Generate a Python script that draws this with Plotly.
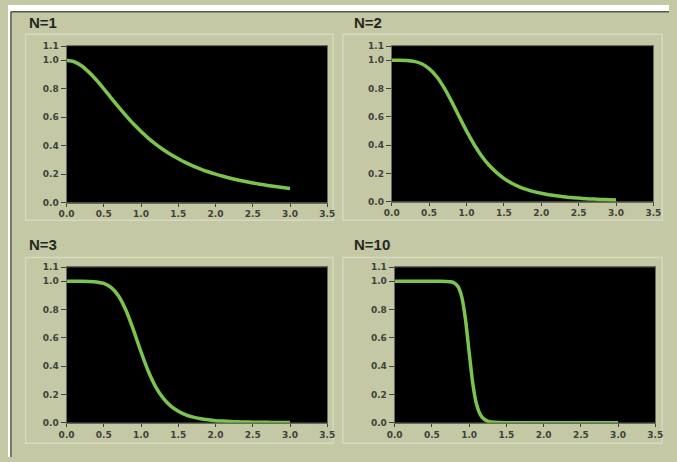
import plotly.graph_objects as go

W, H = 677, 462

# ---- data ----
x_n1 = [0.0, 0.1, 0.2, 0.3, 0.4, 0.5, 0.6, 0.7, 0.8, 0.9, 1.0, 1.1, 1.2, 1.3, 1.4, 1.5,
        1.6, 1.7, 1.8, 1.9, 2.0, 2.1, 2.2, 2.3, 2.4, 2.5, 2.6, 2.7, 2.8, 2.9, 3.0]
y_n1 = [1.0, 0.99, 0.962, 0.917, 0.862, 0.8, 0.735, 0.671, 0.61, 0.552, 0.5, 0.452, 0.41,
        0.372, 0.338, 0.308, 0.281, 0.257, 0.236, 0.217, 0.2, 0.185, 0.171, 0.159, 0.148,
        0.138, 0.129, 0.121, 0.113, 0.106, 0.1]

x_n2 = x_n1
y_n2 = [1.0, 1.0, 0.998, 0.992, 0.975, 0.941, 0.885, 0.806, 0.709, 0.604, 0.5, 0.406, 0.325,
        0.259, 0.207, 0.165, 0.132, 0.107, 0.087, 0.071, 0.059, 0.049, 0.041, 0.035, 0.029,
        0.025, 0.021, 0.018, 0.016, 0.014, 0.012]

x_n3 = x_n1
y_n3 = [1.0, 1.0, 1.0, 0.999, 0.996, 0.985, 0.955, 0.895, 0.792, 0.653, 0.5, 0.361, 0.251,
        0.172, 0.117, 0.081, 0.056, 0.04, 0.029, 0.021, 0.015, 0.012, 0.009, 0.007, 0.005,
        0.004, 0.003, 0.003, 0.002, 0.002, 0.001]

x_n10 = [0.0, 0.1, 0.2, 0.3, 0.4, 0.5, 0.6, 0.7, 0.75, 0.8, 0.85, 0.9, 0.95, 1.0, 1.05,
         1.1, 1.15, 1.2, 1.25, 1.3, 1.4, 1.5, 2.0, 2.5, 3.0]
y_n10 = [1.0, 1.0, 1.0, 1.0, 1.0, 1.0, 1.0, 0.999, 0.997, 0.989, 0.963, 0.892, 0.736, 0.5,
         0.274, 0.129, 0.058, 0.025, 0.011, 0.005, 0.001, 0.0, 0.0, 0.0, 0.0]

titles = ["N=1", "N=2", "N=3", "N=10"]
x_tickvals = [0.0, 0.5, 1.0, 1.5, 2.0, 2.5, 3.0, 3.5]
x_ticktext = ["0.0", "0.5", "1.0", "1.5", "2.0", "2.5", "3.0", "3.5"]
y_tickvals = [0.0, 0.2, 0.4, 0.6, 0.8, 1.0, 1.1]
y_ticktext = ["0.0", "0.2", "0.4", "0.6", "0.8", "1.0", "1.1"]

series = [(x_n1, y_n1), (x_n2, y_n2), (x_n3, y_n3), (x_n10, y_n10)]

# ---- layout geometry (pixels) ----
plot_boxes = [(60, 42, 327, 202), (393, 42, 661, 201), (60, 268, 327, 427), (396, 268, 663, 427)]
group_boxes = [(18, 30, 333, 220), (343, 30, 670, 220), (18, 258, 333, 448), (343, 258, 670, 448)]
title_pos = [(19, 18), (352, 18), (19, 245), (352, 245)]

BG = "#c4c8a5"
GREEN = "#7cc44e"
TICKCOL = "#40413a"


def px(x):
    return x / W


def py(y):
    return 1 - y / H


fig = go.Figure()
shapes = [
    # white strips outside the scanned frame
    dict(type="rect", xref="paper", yref="paper", x0=0, y0=py(7), x1=1, y1=1,
         fillcolor="white", line=dict(width=0), layer="above"),
    dict(type="rect", xref="paper", yref="paper", x0=0, y0=0, x1=px(3), y1=1,
         fillcolor="white", line=dict(width=0), layer="above"),
    # dark frame lines
    dict(type="line", xref="paper", yref="paper", x0=px(3), y0=py(7), x1=1, y1=py(7),
         line=dict(color="#55564c", width=1.5), layer="above"),
    dict(type="line", xref="paper", yref="paper", x0=px(3), y0=py(7), x1=px(3), y1=0,
         line=dict(color="#55564c", width=1.5), layer="above"),
]
annotations = []

for i, ((xs, ys), (l, t, r, b)) in enumerate(zip(series, plot_boxes)):
    n = "" if i == 0 else str(i + 1)
    fig.add_trace(go.Scatter(x=xs, y=ys, mode="lines", xaxis="x" + n, yaxis="y" + n,
                             line=dict(color=GREEN, width=3.5, shape="spline", smoothing=0.6),
                             showlegend=False, hoverinfo="skip"))
    axfont = dict(family="DejaVu Sans", size=9, color=TICKCOL, weight="bold")
    fig.layout["xaxis" + n] = dict(domain=[px(l), px(r)], range=[0, 3.5], anchor="y" + n,
                                   tickvals=x_tickvals, ticktext=x_ticktext, ticks="outside",
                                   ticklen=3, tickcolor=TICKCOL, tickfont=axfont, showgrid=False,
                                   zeroline=False, showline=True, linecolor="#6a6b60", mirror=True,
                                   fixedrange=True)
    fig.layout["yaxis" + n] = dict(domain=[py(b), py(t)], range=[0, 1.1], anchor="x" + n,
                                   tickvals=y_tickvals, ticktext=y_ticktext, ticks="outside",
                                   ticklen=5, tickcolor=TICKCOL, tickfont=axfont, showgrid=False,
                                   zeroline=False, showline=True, linecolor="#6a6b60", mirror=True,
                                   fixedrange=True)
    gl, gt, gr, gb = group_boxes[i]
    shapes.append(dict(type="rect", xref="paper", yref="paper", x0=px(gl), y0=py(gb), x1=px(gr), y1=py(gt),
                       line=dict(color="#d6d9c2", width=1.5), layer="below"))
    tx, ty = title_pos[i]
    annotations.append(dict(text="<b>" + titles[i] + "</b>", xref="paper", yref="paper",
                            x=px(tx), y=py(ty), xanchor="left", yanchor="middle", showarrow=False,
                            font=dict(family="Liberation Sans", size=15, color="#26271f")))

fig.update_layout(width=W, height=H, margin=dict(l=0, r=0, t=0, b=0),
                  paper_bgcolor=BG, plot_bgcolor="black",
                  shapes=shapes, annotations=annotations)

fig.write_html("out.html", config={"displayModeBar": False},
               post_script="document.body.style.margin='0px';document.body.style.overflow='hidden';")
